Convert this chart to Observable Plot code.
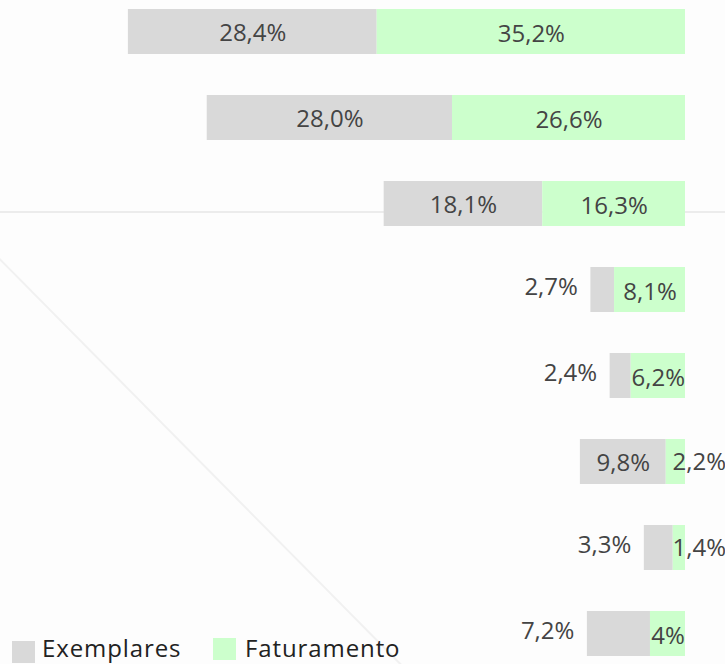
<!DOCTYPE html>
<html>
<head>
<meta charset="utf-8">
<script src="https://cdn.jsdelivr.net/npm/d3@7"></script>
<script src="https://cdn.jsdelivr.net/npm/@observablehq/plot@0.6"></script>
<style>
  html, body { margin: 0; padding: 0; background: #fdfdfd; }
  #wrap { position: relative; width: 725px; height: 664px; overflow: hidden; background: #fdfdfd; }
  .deco-h { position: absolute; left: 0; top: 211px; width: 725px; height: 2px; background: #ececec; }
  .deco-d { position: absolute; left: -2px; top: 256px; width: 580px; height: 2px; background: #f1f1f1;
            transform-origin: 0 0; transform: rotate(45.3deg); }
  #chart { position: absolute; left: 0; top: 0; }
  #chart svg { background: transparent; }
  .legend { position: absolute; left: 0; top: 0; font-family: "Open Sans", sans-serif; font-size: 24px; letter-spacing: 0.9px; color: #222; }
  .sw { position: absolute; width: 23px; height: 22px; }
  .lt { position: absolute; white-space: nowrap; line-height: 1; }
</style>
</head>
<body>
<div id="wrap">
  <div class="deco-h"></div>
  <div class="deco-d"></div>
  <div id="chart"></div>
  <div class="legend" id="legend"></div>
</div>
<script>
const categorias = ["Categoria 1", "Categoria 2", "Categoria 3", "Categoria 4", "Categoria 5", "Categoria 6", "Categoria 7", "Categoria 8"];
const exemplares = [28.4, 28.0, 18.1, 2.7, 2.4, 9.8, 3.3, 7.2];
const faturamento = [35.2, 26.6, 16.3, 8.1, 6.2, 2.2, 1.4, 4];
const rotulosExemplares = ["28,4%", "28,0%", "18,1%", "2,7%", "2,4%", "9,8%", "3,3%", "7,2%"];
const rotulosFaturamento = ["35,2%", "26,6%", "16,3%", "8,1%", "6,2%", "2,2%", "1,4%", "4%"];
const posExemplares = ["dentro", "dentro", "dentro", "fora", "fora", "dentro", "fora", "fora"];
const posFaturamento = ["dentro", "dentro", "dentro", "dentro", "dentro", "fora", "fora", "dentro"];
const series = ["Exemplares", "Faturamento"];
const cores = ["#d9d9d9", "#ccffcc"];

const rows = categorias.map((c, i) => ({
  cat: c, e: exemplares[i], f: faturamento[i],
  le: rotulosExemplares[i], lf: rotulosFaturamento[i],
  pe: posExemplares[i], pf: posFaturamento[i]
}));

const fontSize = 24;
const txtColor = "#444";

const plot = Plot.plot({
  width: 725,
  height: 664,
  marginTop: 8,
  marginBottom: 7,
  marginLeft: 0,
  marginRight: 40,
  style: { fontFamily: "'Open Sans', sans-serif", background: "transparent", overflow: "visible" },
  x: { domain: [0, 78.2], reverse: true, axis: null },
  y: { domain: categorias, axis: null, paddingInner: 0.478, paddingOuter: 0 },
  marks: [
    Plot.barX(rows, { y: "cat", x1: d => d.f, x2: d => d.f + d.e, fill: cores[0] }),
    Plot.barX(rows, { y: "cat", x1: 0, x2: "f", fill: cores[1] }),
    Plot.text(rows.filter(d => d.pe === "dentro"), {
      y: "cat", x: d => d.f + d.e / 2, text: "le", fontSize, fill: txtColor, dy: 1
    }),
    Plot.text(rows.filter(d => d.pe === "fora"), {
      y: "cat", x: d => d.f + d.e, text: "le", fontSize, fill: txtColor, textAnchor: "end", dx: -13, dy: -3
    }),
    Plot.text(rows.filter(d => d.pf === "dentro"), {
      y: "cat", x: d => d.f / 2, text: "lf", fontSize, fill: txtColor, dy: 2
    }),
    Plot.text(rows.filter(d => d.pf === "fora"), {
      y: "cat", x: 0, text: "lf", fontSize, fill: txtColor, textAnchor: "start", dx: -13, dy: 0
    })
  ]
});
document.getElementById("chart").appendChild(plot);

const legend = document.getElementById("legend");
const legPos = [{ sx: 12, sy: 641, tx: 42 }, { sx: 213, sy: 638, tx: 245 }];
series.forEach((s, i) => {
  const sw = document.createElement("div");
  sw.className = "sw";
  sw.style.left = legPos[i].sx + "px";
  sw.style.top = legPos[i].sy + "px";
  sw.style.background = cores[i];
  legend.appendChild(sw);
  const t = document.createElement("div");
  t.className = "lt";
  t.style.left = legPos[i].tx + "px";
  t.style.top = "636px";
  t.textContent = s;
  legend.appendChild(t);
});
</script>
</body>
</html>
